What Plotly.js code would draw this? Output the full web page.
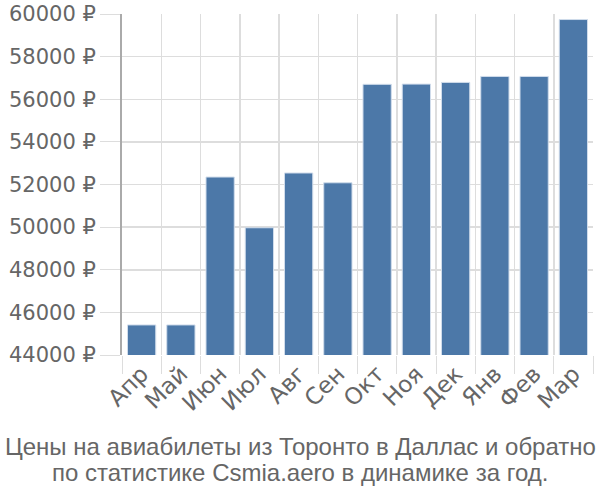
<!DOCTYPE html>
<html><head><meta charset="utf-8">
<script src="https://cdn.plot.ly/plotly-3.0.1.min.js"></script>
<style>body{margin:0;padding:0;}#chart{width:600px;height:500px;}</style>
</head><body><div id="chart"></div>
<script>
const months = ["Апр","Май","Июн","Июл","Авг","Сен","Окт","Ноя","Дек","Янв","Фев","Мар"];
const prices = [45410, 45410, 52350, 49970, 52540, 52080, 56700, 56710, 56790, 57070, 57070, 59740];
const yTicks = [44000, 46000, 48000, 50000, 52000, 54000, 56000, 58000, 60000];
const yTickText = yTicks.map(v => v + " ₽");
const titleLines = ["Цены на авиабилеты из Торонто в Даллас и обратно", "по статистике Csmia.aero в динамике за год."];

const titleFont = {family: "'Liberation Sans Narrow', 'Liberation Sans', sans-serif", size: 24, color: "#666"};
const titleY = [-0.267, -0.346];

Plotly.newPlot("chart", [{
  type: "bar", x: months, y: prices,
  marker: {color: "#4c78a8", line: {color: "#d0dceb", width: 1}},
  hoverinfo: "none"
}], {
  width: 600, height: 500,
  margin: {l: 122, r: 7, t: 14, b: 145},
  bargap: 0.28,
  paper_bgcolor: "#fff", plot_bgcolor: "#fff",
  font: {family: "'DejaVu Sans', sans-serif", color: "#666", size: 21},
  annotations: titleLines.map((t, i) => ({
    text: t, xref: "paper", yref: "paper", x: 0.378, y: titleY[i],
    xanchor: "center", yanchor: "middle", showarrow: false, font: titleFont
  })),
  xaxis: {tickangle: -45, tickson: "boundaries", ticks: "outside", ticklen: 18, tickcolor: "#ddd",
          showgrid: true, gridcolor: "#ddd", gridwidth: 1.5, showline: false,
          tickfont: {size: 23, color: "#666"}},
  yaxis: {range: [44000, 60000], tickvals: yTicks, ticktext: yTickText,
          ticks: "outside", ticklen: 20, tickcolor: "#ddd",
          showgrid: true, gridcolor: "#ddd", gridwidth: 1.5,
          showline: true, linecolor: "#aaa", linewidth: 2,
          zeroline: false, tickfont: {size: 21, color: "#666"}}
}, {staticPlot: true});
</script></body></html>
